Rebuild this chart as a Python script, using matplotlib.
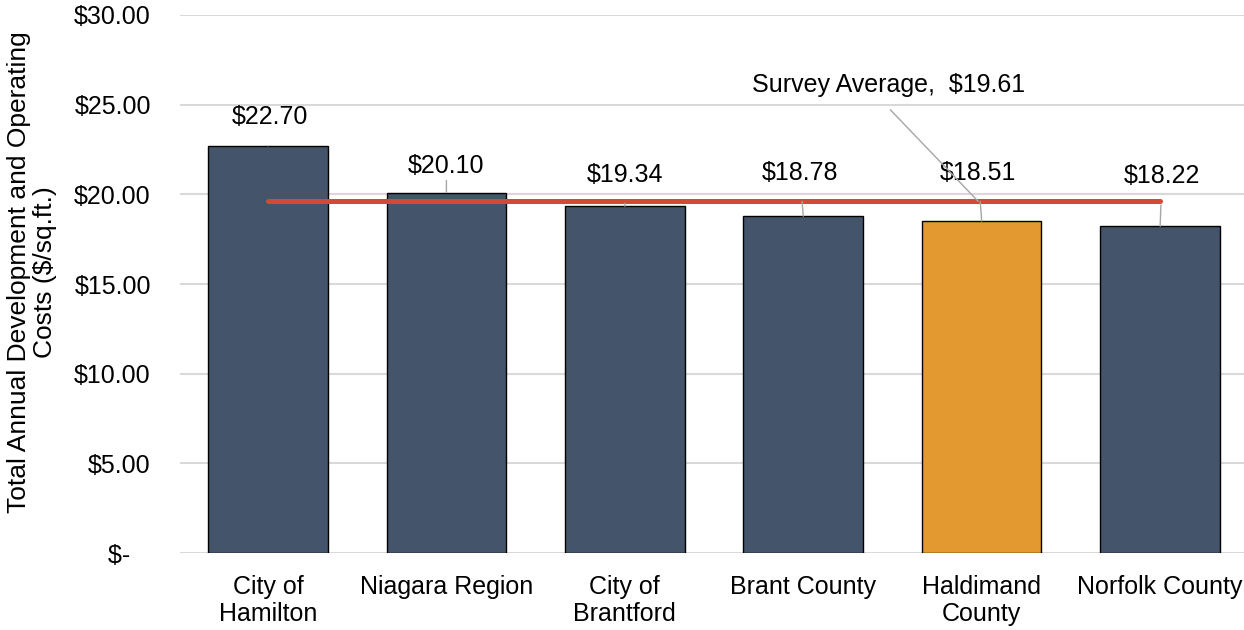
import numpy as np
import matplotlib.pyplot as plt

plt.rcParams['font.family'] = ['Liberation Sans', 'DejaVu Sans']

regions = ['City of\nHamilton', 'Niagara Region', 'City of\nBrantford',
           'Brant County', 'Haldimand\nCounty', 'Norfolk County']
costs = [22.70, 20.10, 19.34, 18.78, 18.51, 18.22]
survey_avg = 19.61
highlight = 'Haldimand\nCounty'

# label text positions (x offset, y)
label_dx = [0.01, 0.0, 0.0, -0.02, -0.02, 0.01]
label_y = [24.3, 21.6, 21.1, 21.2, 21.2, 21.0]

fig = plt.figure(figsize=(12.44, 6.30), dpi=100)
ax = fig.add_axes([0.1447, 0.1222, 0.8553, 0.8540])

x = np.arange(len(regions))
colors = ['#E3992F' if r == highlight else '#44546A' for r in regions]
ax.bar(x, costs, width=0.67, color=colors, edgecolor='black', linewidth=1.0, zorder=2)

ax.plot([x[0], x[-1]], [survey_avg, survey_avg], color='#D24A35', lw=3.6,
        solid_capstyle='round', zorder=3)

for i, v in enumerate(costs):
    ax.annotate(f'${v:.2f}', xy=(x[i], v), xytext=(x[i] + label_dx[i], label_y[i]),
                ha='center', va='center', fontsize=18,
                arrowprops=dict(arrowstyle='-', color='#A6A6A6', lw=1.0,
                                shrinkA=10, shrinkB=0), zorder=4)

ax.annotate(f'Survey Average,  ${survey_avg:.2f}', xy=(x[4] - 0.02, survey_avg),
            xytext=(3.48, 26.1), ha='center', va='center', fontsize=18,
            arrowprops=dict(arrowstyle='-', color='#A6A6A6', lw=1.0,
                            relpos=(0.46, 0.0), shrinkA=10, shrinkB=0), zorder=4)

ax.set_ylim(0, 30)
ax.set_xlim(-0.493, 5.47)
yt = np.arange(0, 31, 5)
ax.set_yticks(yt)
ax.set_yticklabels(['$-   '] + [f'${t:.2f}' for t in yt[1:]])
ax.set_xticks(x)
ax.set_xticklabels(regions, linespacing=1.15)
ax.tick_params(axis='y', length=0, pad=21, labelsize=18)
ax.tick_params(axis='x', length=0, pad=16, labelsize=18)
ax.grid(axis='y', color='#D9D9D9', lw=1.5, zorder=0)
ax.set_axisbelow(True)
for s in ax.spines.values():
    s.set_visible(False)

fig.text(32 / 1244, 1 - 272 / 630,
         'Total Annual Development and Operating\nCosts ($/sq.ft.)',
         rotation=90, ha='center', va='center', fontsize=19, linespacing=1.1)

fig.savefig('out.png', dpi=100)
